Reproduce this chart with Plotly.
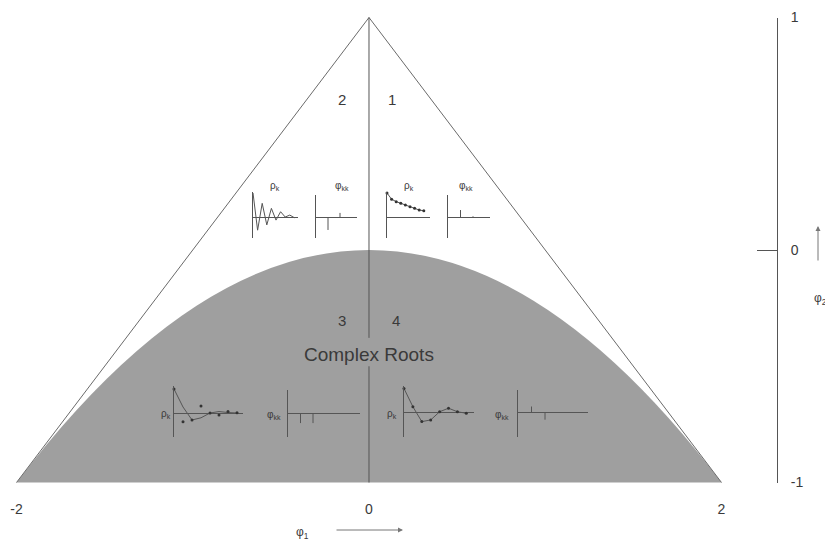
import plotly.graph_objects as go

# ---------------- data ----------------
triangle_phi1 = [-2, 0, 2]
triangle_phi2 = [-1, 1, -1]
center_phi1 = [0, 0, None, 0, 0]
center_phi2 = [1, -0.378, None, -0.5, -1]
x_tick_vals = [-2, 0, 2]
x_tick_text = ["-2", "0", "2"]
y_tick_vals = [-1, 0, 1]
y_tick_text = ["-1", "0", "1"]

# sketches of autocorrelation (rho_k) and partial autocorrelation (phi_kk)
rho_region1 = [1.0, 0.74, 0.64, 0.57, 0.5, 0.43, 0.36, 0.29, 0.26]
pacf_region1 = [0.29, 0.03]
rho_region2 = [1.0, -0.55, 0.57, -0.33, 0.36, -0.13, 0.22, 0.0, 0.08, -0.03]
pacf_region2 = [-0.54, 0.17]
rho_region3_curve = [1.0, 0.25, -0.29, -0.2, 0.0, 0.06, 0.02, 0.0]
rho_region3_dots = [1.0, -0.36, -0.29, 0.29, 0.0, -0.08, 0.06, 0.01]
pacf_region3 = [-0.42, -0.42]
rho_region4 = [1.0, 0.24, -0.38, -0.31, 0.03, 0.18, 0.03, -0.03]
pacf_region4 = [0.25, -0.3]

# ---------------- styling / layout ----------------
LINE = "#6a6a6a"
DARK = "#555555"
TEXT = "#3a3a3a"
SHADE = "#9f9f9f"
FONT = "Liberation Sans, Arial, sans-serif"

OFF = 8                     # page body margin of the rendered html
W, H = 833 - OFF, 540 - OFF  # figure size

# screen-pixel geometry of the main frame
X0_PX, X_UNIT = 369.0, 176.25
Y0_PX, Y_UNIT = 250.0, 232.5
PAD_X, PAD_Y = 0.04, 0.03


def px(v):       # phi1 -> screen x
    return X0_PX + v * X_UNIT


def py(v):       # phi2 -> screen y
    return Y0_PX - v * Y_UNIT


def fx(sx):      # screen x -> paper
    return (sx - OFF) / W


def fy(sy):      # screen y -> paper
    return 1 - (sy - OFF) / H


fig = go.Figure()

# triangle edges
fig.add_trace(go.Scatter(x=triangle_phi1, y=triangle_phi2, mode="lines",
                         line=dict(color=LINE, width=1), hoverinfo="skip",
                         showlegend=False))
# centre line
fig.add_trace(go.Scatter(x=center_phi1, y=center_phi2, mode="lines",
                         line=dict(color=DARK, width=1), hoverinfo="skip",
                         showlegend=False))

# shaded complex-root region: boundary phi2 = -phi1^2/4 is exactly the
# quadratic Bezier whose control point is the triangle apex
shade_path = (f"M {triangle_phi1[0]},{triangle_phi2[0]} "
              f"Q {triangle_phi1[1]},{triangle_phi2[1]} {triangle_phi1[2]},{triangle_phi2[2]} Z")
fig.add_shape(type="path", path=shade_path, xref="x", yref="y",
              fillcolor=SHADE, line=dict(width=0), layer="below")

fig.update_layout(
    template="none",
    width=W, height=H,
    margin=dict(l=0, r=0, t=0, b=0, pad=0, autoexpand=False),
    paper_bgcolor="white", plot_bgcolor="rgba(0,0,0,0)",
    font=dict(family=FONT, color=TEXT),
    showlegend=False,
    xaxis=dict(domain=[fx(px(-2 - PAD_X)), fx(px(2 + PAD_X))],
               range=[-2 - PAD_X, 2 + PAD_X], showgrid=False, zeroline=False,
               showline=False, ticks="", tickvals=x_tick_vals,
               ticktext=x_tick_text, tickfont=dict(size=14, color=TEXT),
               ticklabelstandoff=10,
               automargin=False, fixedrange=True),
    yaxis=dict(domain=[fy(py(-1 - PAD_Y)), fy(py(1 + PAD_Y))],
               range=[-1 - PAD_Y, 1 + PAD_Y], showgrid=False, zeroline=False,
               showline=False, showticklabels=False, ticks="",
               automargin=False, fixedrange=True),
)

# right-hand phi2 scale
fig.add_trace(go.Scatter(x=[None], y=[None], xaxis="x20", yaxis="y20",
                         showlegend=False, hoverinfo="skip"))
fig.layout["xaxis20"] = dict(domain=[fx(740), fx(777)], visible=False,
                             anchor="y20", automargin=False, fixedrange=True)
fig.layout["yaxis20"] = dict(domain=[fy(py(-1)), fy(py(1))],
                             range=[-1, 1], anchor="x20", side="right",
                             showline=True, linecolor=DARK, linewidth=1,
                             ticks="inside", ticklen=20, tickcolor=DARK,
                             tickwidth=1, tickvals=y_tick_vals,
                             ticktext=y_tick_text, showgrid=False,
                             zeroline=False, tickfont=dict(size=14, color=TEXT),
                             ticklabelstandoff=10,
                             automargin=False, fixedrange=True)

# ---------------- insets ----------------
inset_n = [4]


def add_inset(left, right, top, bottom, zero, lag_px, unit_px=24.0):
    n = inset_n[0]
    inset_n[0] += 1
    fig.layout[f"xaxis{n}"] = dict(domain=[fx(left), fx(right)],
                                   range=[0, (right - left) / lag_px],
                                   visible=False, anchor=f"y{n}",
                                   automargin=False, fixedrange=True)
    fig.layout[f"yaxis{n}"] = dict(domain=[fy(bottom), fy(top)],
                                   range=[-(bottom - zero) / unit_px,
                                          (zero - top) / unit_px],
                                   anchor=f"x{n}", showline=True,
                                   linecolor=DARK, linewidth=1,
                                   zeroline=True, zerolinecolor=DARK,
                                   zerolinewidth=1, showgrid=False,
                                   showticklabels=False, ticks="",
                                   automargin=False, fixedrange=True)
    return f"x{n}", f"y{n}"


def add_acf(vals, box, mode="lines", marker_size=3, dots=None):
    xa, ya = add_inset(*box)
    fig.add_trace(go.Scatter(x=list(range(len(vals))), y=vals, mode=mode,
                             xaxis=xa, yaxis=ya, cliponaxis=False,
                             line=dict(color=DARK, width=1),
                             marker=dict(color="#333333", size=marker_size),
                             hoverinfo="skip", showlegend=False))
    if dots is not None:
        fig.add_trace(go.Scatter(x=list(range(len(dots))), y=dots,
                                 mode="markers", xaxis=xa, yaxis=ya,
                                 cliponaxis=False,
                                 marker=dict(color="#333333", size=marker_size),
                                 hoverinfo="skip", showlegend=False))


def add_pacf(vals, box):
    xa, ya = add_inset(*box)
    xs, ys = [], []
    for k, v in enumerate(vals, start=1):
        xs += [k, k, None]
        ys += [0, v, None]
    fig.add_trace(go.Scatter(x=xs, y=ys, mode="lines", xaxis=xa, yaxis=ya,
                             cliponaxis=False,
                             line=dict(color=DARK, width=1),
                             hoverinfo="skip", showlegend=False))


# region 2 (upper left)
add_acf(rho_region2, (253, 298, 192, 238, 217, 4.6))
add_pacf(pacf_region2, (316, 357, 195, 238, 217, 12.0))
# region 1 (upper right)
add_acf(rho_region1, (387, 430, 192, 238, 217, 4.6), mode="lines+markers")
add_pacf(pacf_region1, (448, 490, 195, 238, 217, 12.5))
# region 3 (lower left)
add_acf(rho_region3_curve, (174, 243, 386, 437, 413, 9.0), dots=rho_region3_dots)
add_pacf(pacf_region3, (288, 360, 390, 437, 413, 12.5))
# region 4 (lower right)
add_acf(rho_region4, (404, 474, 386, 437, 412.5, 8.9), mode="lines+markers")
add_pacf(pacf_region4, (518, 588, 390, 437, 412.5, 13.5))

# ---------------- annotations ----------------
ann = []


def text_px(x, y, t, size, **kw):
    ann.append(dict(x=fx(x), y=fy(y), xref="paper", yref="paper", text=t,
                    showarrow=False, font=dict(size=size, color=TEXT,
                                               family=FONT),
                    xanchor="center", yanchor="middle", **kw))


text_px(342, 100, "2", 15)
text_px(392, 100, "1", 15)
text_px(342, 320, "3", 15)
text_px(396, 320, "4", 15)
text_px(369, 354, "Complex Roots", 19)

small = 10
text_px(275, 186, "ρ<sub>k</sub>", small)
text_px(342, 186, "φ<sub>kk</sub>", small)
text_px(409, 186, "ρ<sub>k</sub>", small)
text_px(466, 186, "φ<sub>kk</sub>", small)
text_px(166, 414, "ρ<sub>k</sub>", small)
text_px(274, 415, "φ<sub>kk</sub>", small)
text_px(392, 414, "ρ<sub>k</sub>", small)
text_px(502, 415, "φ<sub>kk</sub>", small)

# axis names with arrows
text_px(302, 533, "φ<sub>1</sub>", 12)
text_px(820, 299, "φ<sub>2</sub>", 12)
ann.append(dict(x=fx(403), y=fy(530), xref="paper", yref="paper",
                ax=-68, ay=0, text="", showarrow=True, arrowhead=2,
                arrowsize=1, arrowwidth=1, arrowcolor="#777777"))
ann.append(dict(x=fx(818), y=fy(226), xref="paper", yref="paper",
                ax=0, ay=36, text="", showarrow=True, arrowhead=2,
                arrowsize=1, arrowwidth=1, arrowcolor="#777777"))

fig.update_layout(annotations=ann)

fig.write_html("out.html")
